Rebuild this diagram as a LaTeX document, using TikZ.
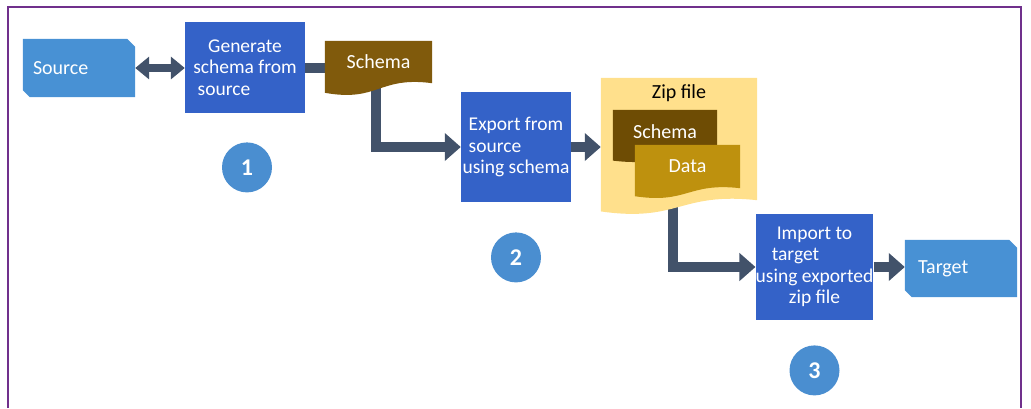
\documentclass[tikz,border=0pt]{standalone}
\usepackage{fontspec}
\setmainfont{Carlito}
\usepackage{xcolor}
\definecolor{fpurple}{RGB}{112,48,140}
\definecolor{bblue}{RGB}{52,98,200}
\definecolor{sblue}{RGB}{72,145,212}
\definecolor{cblue}{RGB}{74,142,208}
\definecolor{sbrown}{RGB}{128,90,12}
\definecolor{dbrown}{RGB}{110,76,4}
\definecolor{dgold}{RGB}{190,145,14}
\definecolor{lyellow}{RGB}{255,224,140}
\definecolor{agray}{RGB}{66,82,106}
\usepackage{tikz}
\usetikzlibrary{arrows.meta,positioning,calc,backgrounds}

% wavy-bottom document shape under a node
\newcommand{\docshape}[3]{%
  \fill[#2] (#1.north west) -- (#1.north east) -- (#1.south east)
    .. controls ([yshift=0.6*#3]#1.south) and ([yshift=-1.6*#3]#1.south)
    .. ([yshift=-0.8*#3]#1.south west) -- cycle;}
% rectangle with snipped north-east and south-west corners
\newcommand{\snipshape}[2]{%
  \fill[#2] (#1.north west) -- ([xshift=-8pt]#1.north east) -- ([yshift=-8pt]#1.north east)
    -- (#1.south east) -- ([xshift=7pt]#1.south west) -- ([yshift=7pt]#1.south west) -- cycle;}

\begin{document}
\begin{tikzpicture}[
  x=1pt,y=-1pt,
  pbox/.style={rectangle,fill=bblue,text=white,align=center,inner sep=0pt,font=\fontsize{19.5}{21.5}\selectfont},
  ebox/.style={rectangle,inner sep=0pt,text=white,font=\fontsize{20}{22}\selectfont},
  num/.style={circle,fill=cblue,text=white,minimum size=50pt,inner sep=0pt,font=\fontsize{24}{26}\selectfont\bfseries},
  flowarrow/.style={line width=10pt,agray,-{Triangle[length=16pt,width=27pt]}},
  flowlink/.style={line width=10pt,agray},
  dualarrow/.style={line width=8pt,agray,{Triangle[length=14pt,width=22pt]}-{Triangle[length=14pt,width=22pt]}}
]
  \useasboundingbox (0,0) rectangle (1031,408);
  \draw[fpurple,line width=1.5pt] (8,408) -- (8,7) -- (1021,7) -- (1021,408);

  % Step 1
  \node[ebox,minimum width=112pt,minimum height=58pt,text width=92pt,align=left] (src) at (79,68) {Source};
  \node[pbox,minimum width=120pt,minimum height=91pt] (gen) at (245,67.5) {Generate\\schema from\\source\makebox[42pt]{}};
  \node[ebox,minimum width=107pt,minimum height=42pt] (sch) at (378.5,62) {Schema};
  \node[num,below=29pt of gen,xshift=2pt] (n1) {1};

  % Step 2
  \node[pbox,minimum width=110pt,minimum height=110pt] (exp) at (516,147) {Export from\\source\makebox[42pt]{}\\using schema};
  \node[ebox,minimum width=156pt,minimum height=122pt] (zip) at (679,139) {};
  \node[ebox,text=black,below=7pt of zip.north] (ziptitle) {Zip file};
  \node[ebox,minimum width=104pt,minimum height=44pt] (isch) at (665,132) {Schema};
  \node[ebox,minimum width=105pt,minimum height=43pt] (dat) at (687.5,166.5) {Data};
  \node[num,below=30pt of exp] (n2) {2};

  % Step 3
  \node[pbox,minimum width=115pt,minimum height=106pt] (imp) at (814.5,267) {Import to\\target\makebox[38pt]{}\\using exported\\zip file};
  \node[ebox,minimum width=112pt,minimum height=57pt,text width=86pt,align=left] (tgt) at (961,268.5) {Target};
  \node[num,below=25pt of imp] (n3) {3};

  \begin{scope}[on background layer]
    % Arrows
    \draw[dualarrow] (src.east) -- (src.east -| gen.west);
    \draw[flowlink] (gen.east) -- (gen.east -| sch.west);
    \draw[flowarrow] ([xshift=-3pt]sch.south) |- (exp.west);
    \draw[flowarrow] (exp.east) -- (exp.east -| zip.west);
    \draw[flowarrow] ([xshift=-6pt]zip.south) |- (imp.west);
    \draw[flowarrow] (imp.east) -- (imp.east -| tgt.west);
    % Shapes
    \snipshape{src}{sblue}
    \snipshape{tgt}{sblue}
    \docshape{sch}{sbrown}{12pt}
    \docshape{zip}{lyellow}{14pt}
    \docshape{isch}{dbrown}{8pt}
    \docshape{dat}{dgold}{10pt}
  \end{scope}
\end{tikzpicture}
\end{document}
